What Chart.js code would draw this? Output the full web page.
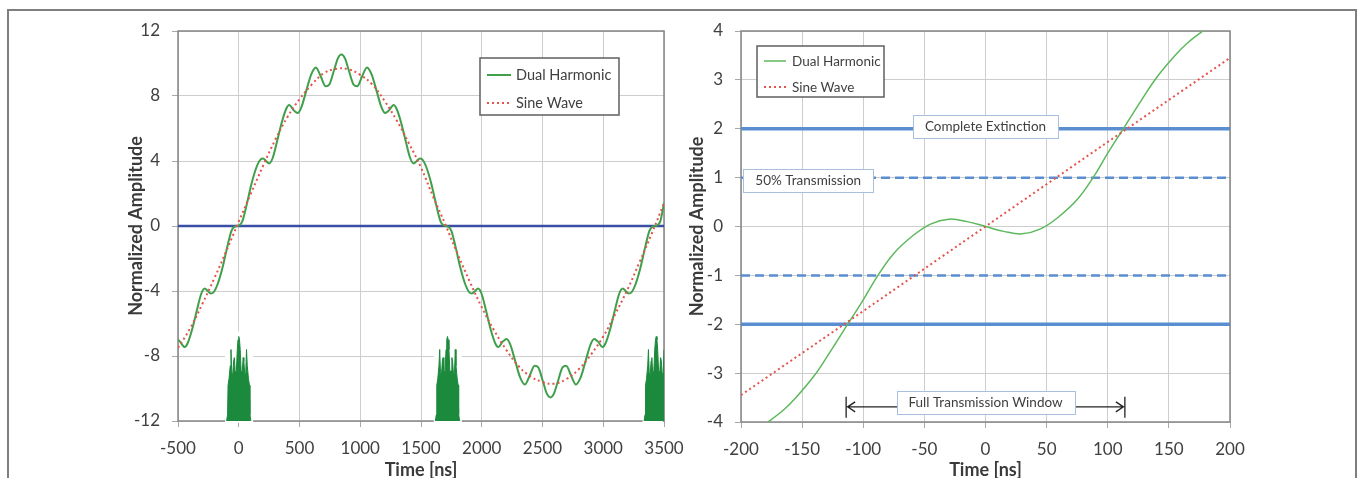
<!DOCTYPE html>
<html><head><meta charset="utf-8">
<script src="https://cdn.jsdelivr.net/npm/chart.js@4.4.1/dist/chart.umd.min.js"></script>
<style>
html,body{margin:0;padding:0;background:#fff;overflow:hidden;}
body{width:1358px;height:478px;position:relative;}
#frame{position:absolute;left:7px;top:9px;width:1350px;height:520px;border:2px solid #7f7f7f;box-sizing:border-box;}
#w1{position:absolute;left:0;top:0;width:700px;height:478px;}
#w2{position:absolute;left:680px;top:0;width:678px;height:478px;}
</style></head>
<body>
<div id="frame"></div>
<div id="w1"><canvas id="c1" width="700" height="478"></canvas></div>
<div id="w2"><canvas id="c2" width="678" height="478"></canvas></div>
<script>
// ---------- data ----------
const seriesNames = ['Dual Harmonic', 'Sine Wave'];

// Left panel: full period
const dualTime = [-500,-485,-445,-420,-385,-345,-310,-280,-255,-230,-210,-175,-135,-95,-60,-35,-15,5,30,65,105,145,180,200,225,250,280,315,355,390,415,455,485,515,555,595,635,675,715,745,785,815,845,875,905,945,975,1015,1055,1095,1135,1175,1205,1235,1275,1300,1335,1375,1410,1440,1465,1490,1510,1545,1585,1625,1660,1685,1705,1725,1750,1785,1825,1865,1900,1920,1945,1970,2000,2035,2075,2110,2135,2175,2205,2235,2275,2315,2355,2395,2435,2465,2505,2535,2565,2595,2625,2665,2695,2735,2775,2815,2855,2895,2925,2955,2995,3020,3055,3095,3130,3160,3185,3210,3230,3265,3305,3345,3380,3405,3425,3445,3470,3500];
const dualValue = [-7.0,-7.1,-7.45,-7.2,-6.4,-5.2,-4.2,-3.85,-4.0,-4.15,-4.1,-3.6,-2.6,-1.3,-0.3,-0.05,0,0.05,0.3,1.3,2.6,3.6,4.1,4.15,4.0,3.85,4.2,5.2,6.4,7.2,7.45,7.1,6.95,7.3,8.3,9.3,9.75,9.2,8.6,8.7,9.6,10.3,10.55,10.3,9.6,8.7,8.6,9.2,9.75,9.3,8.3,7.3,6.95,7.1,7.45,7.2,6.4,5.2,4.2,3.85,4.0,4.15,4.1,3.6,2.6,1.3,0.3,0.05,0,-0.05,-0.3,-1.3,-2.6,-3.6,-4.1,-4.15,-4.0,-3.85,-4.2,-5.2,-6.4,-7.2,-7.45,-7.1,-6.95,-7.3,-8.3,-9.3,-9.75,-9.2,-8.6,-8.7,-9.6,-10.3,-10.55,-10.3,-9.6,-8.7,-8.6,-9.2,-9.75,-9.3,-8.3,-7.3,-6.95,-7.1,-7.45,-7.2,-6.4,-5.2,-4.2,-3.85,-4.0,-4.15,-4.1,-3.6,-2.6,-1.3,-0.3,-0.05,0,0.05,0.3,1.4];
const sineTime = [-500,-400,-300,-200,-100,0,100,200,300,400,500,600,700,800,900,1000,1100,1200,1300,1400,1500,1600,1700,1800,1900,2000,2100,2200,2300,2400,2500,2600,2700,2800,2900,3000,3100,3200,3300,3400,3500];
const sineValue = [-7.5,-6.3,-4.8,-3.2,-1.5,0.27,2.0,3.7,5.3,6.7,7.8,8.7,9.4,9.67,9.65,9.3,8.7,7.7,6.5,5.1,3.6,1.8,0.1,-1.7,-3.4,-5.0,-6.4,-7.6,-8.6,-9.25,-9.6,-9.7,-9.4,-8.8,-7.9,-6.8,-5.4,-3.9,-2.2,-0.45,1.4];
const zeroLineTime = [-500, 3500];
const zeroLineValue = [0, 0];
// pulse inset (time offset from pulse centre, amplitude)
const pulseCenters = [0, 1718, 3436];
const pulseOffset = [-100,-92,-88,-80,-70,-64,-58,-50,-42,-36,-30,-20,-12,-6,0,6,12,20,30,36,42,50,58,64,70,80,88,92,100];
const pulseValue  = [-12,-11.6,-9.8,-9.4,-8.6,-7.6,-9.0,-9.2,-8.3,-8.1,-8.9,-9.0,-7.6,-7.0,-6.8,-7.0,-7.6,-9.0,-8.9,-8.1,-8.3,-9.2,-9.0,-7.6,-8.6,-9.4,-9.8,-11.6,-12];
const leftXTicks = [-500,0,500,1000,1500,2000,2500,3000,3500];
const leftYTicks = [-12,-8,-4,0,4,8,12];

// Right panel: zoom around the zero crossing
const zoomTime  = [-190,-178,-165,-155,-140,-128,-114,-100,-88,-75,-60,-45,-30,-15,0,15,30,45,60,75,88,100,114,128,140,155,165,178,190];
const zoomDual  = [-4.2,-4.0,-3.75,-3.5,-3.05,-2.6,-2.05,-1.5,-1.0,-0.55,-0.2,0.05,0.15,0.1,0,-0.1,-0.15,-0.05,0.2,0.55,1.0,1.5,2.05,2.6,3.05,3.5,3.75,4.0,4.2];
const zoomSineTime = [-200,-100,0,100,200];
const zoomSine     = [-3.45,-1.73,0,1.73,3.45];
const extinctionLevels = [2, -2];
const halfLevels = [1, -1];
const rightXTicks = [-200,-150,-100,-50,0,50,100,150,200];
const rightYTicks = [-4,-3,-2,-1,0,1,2,3,4];
const annotationTexts = ['Complete Extinction', '50% Transmission', 'Full Transmission Window'];
const annotationT = [0, -145, 0];
const annotationV = [2.05, 0.95, -3.6];
const windowStart = -114, windowEnd = 114, windowLevel = -3.69;

// ---------- helpers ----------
const FONT = 'Lato, "Open Sans", sans-serif';
const TXT = '#404040';
const pts = (xs, ys) => xs.map((x, i) => ({x: x, y: ys[i]}));

function frameAndGrid(chart) {
  const {ctx, chartArea: a} = chart;
  ctx.save();
  ctx.strokeStyle = '#858585';
  ctx.lineWidth = 1.5;
  ctx.strokeRect(a.left, a.top, a.right - a.left, a.bottom - a.top);
  ctx.restore();
}

function drawLegend(ctx, bx, by, bw, bh, rows, s0, s1, tx, fontSize, entries) {
  ctx.save();
  ctx.fillStyle = '#fff';
  ctx.fillRect(bx, by, bw, bh);
  ctx.strokeStyle = '#5f5f5f';
  ctx.lineWidth = 1.5;
  ctx.strokeRect(bx, by, bw, bh);
  ctx.font = fontSize + 'px ' + FONT;
  ctx.textBaseline = 'middle';
  ctx.textAlign = 'left';
  entries.forEach((e, i) => {
    const yy = by + rows[i];
    ctx.beginPath();
    ctx.setLineDash(e.dash || []);
    ctx.strokeStyle = e.color;
    ctx.lineWidth = e.width;
    ctx.moveTo(bx + s0, yy);
    ctx.lineTo(bx + s1, yy);
    ctx.stroke();
    ctx.setLineDash([]);
    ctx.fillStyle = TXT;
    ctx.fillText(e.label, bx + tx, yy + 0.5);
  });
  ctx.restore();
}

function scaleOpts(min, max, ticksArr, width, height, isX, titleText, titlePad) {
  const o = {
    type: 'linear', min: min, max: max,
    afterBuildTicks: s => { s.ticks = ticksArr.map(v => ({value: v})); },
    ticks: {font: {family: FONT, size: 17}, color: TXT, autoSkip: false, maxRotation: 0,
            padding: isX ? 11 : 12, callback: v => String(v)},
    grid: {color: '#cdcdcd', lineWidth: 1, tickLength: 6, tickColor: '#a8a8a8', drawTicks: true},
    border: {display: false},
    title: {display: true, text: titleText, color: '#3a3a3a',
            font: {family: FONT, size: 18, weight: 'bold'}, padding: titlePad}
  };
  if (isX) o.afterFit = s => { s.height = height; };
  else o.afterFit = s => { s.width = width; };
  return o;
}

// ---------- left chart ----------
const leftDecor = {
  id: 'leftDecor',
  beforeDatasetsDraw(chart) {
    const {ctx, chartArea: a, scales: {x, y}} = chart;
    frameAndGrid(chart);
    ctx.save();
    ctx.fillStyle = '#fff';
    pulseCenters.forEach(c => {
      const x0 = Math.max(a.left + 1, x.getPixelForValue(c - 113));
      const x1 = Math.min(a.right - 1, x.getPixelForValue(c + 118));
      const y0 = y.getPixelForValue(-6.5);
      ctx.fillRect(x0, y0, x1 - x0, a.bottom + 2 - y0);
    });
    ctx.restore();
  },
  afterDatasetsDraw(chart) {
    const {ctx, chartArea: a} = chart;
    drawLegend(ctx, a.right - 184, a.top + 27, 139, 57, [17, 45], 7, 31, 36, 14.5, [
      {label: seriesNames[0], color: '#3f9f4a', width: 2},
      {label: seriesNames[1], color: '#e5534b', width: 2, dash: [2, 3]}
    ]);
  }
};

const pulseSets = pulseCenters.map(c => ({
  label: 'pulse',
  data: pulseOffset.map((u, i) => ({x: c + u, y: pulseValue[i]})),
  borderColor: '#1b8a3c', backgroundColor: '#1b8a3c', borderWidth: 1,
  fill: {value: -12}, pointRadius: 0, tension: 0, order: 5
}));

new Chart(document.getElementById('c1'), {
  type: 'line',
  data: {datasets: [
    {label: seriesNames[1], data: pts(sineTime, sineValue), borderColor: '#e5534b', borderWidth: 2,
     borderDash: [2, 3], pointRadius: 0, tension: 0.4, fill: false, order: 1},
    {label: seriesNames[0], data: pts(dualTime, dualValue), borderColor: '#3f9f4a', borderWidth: 2,
     pointRadius: 0, cubicInterpolationMode: 'monotone', fill: false, order: 2},
    {label: 'zero', data: pts(zeroLineTime, zeroLineValue), borderColor: '#3a4fa3', borderWidth: 2.5,
     pointRadius: 0, fill: false, order: 3},
    ...pulseSets
  ]},
  options: {
    responsive: false, animation: false, events: [],
    layout: {padding: {left: 0, top: 31, right: 36, bottom: 0}},
    plugins: {legend: {display: false}, tooltip: {enabled: false}},
    scales: {
      x: scaleOpts(-500, 3500, leftXTicks, 0, 57, true, 'Time [ns]', {top: 0, bottom: -3}),
      y: scaleOpts(-12, 12, leftYTicks, 178, 0, false, 'Normalized Amplitude', {top: 125, bottom: 0})
    }
  },
  plugins: [leftDecor]
});

// ---------- right chart ----------
const rightDecor = {
  id: 'rightDecor',
  beforeDatasetsDraw(chart) { frameAndGrid(chart); },
  afterDatasetsDraw(chart) {
    const {ctx, chartArea: a, scales: {x, y}} = chart;
    ctx.save();
    // arrow
    const xa = x.getPixelForValue(windowStart), xb = x.getPixelForValue(windowEnd);
    const ya = y.getPixelForValue(windowLevel);
    ctx.strokeStyle = '#222'; ctx.lineWidth = 1.3;
    ctx.beginPath();
    ctx.moveTo(xa, ya - 10); ctx.lineTo(xa, ya + 11);
    ctx.moveTo(xb, ya - 10); ctx.lineTo(xb, ya + 11);
    ctx.moveTo(xa + 1, ya); ctx.lineTo(xb - 1, ya);
    ctx.moveTo(xa + 9, ya - 5); ctx.lineTo(xa + 1.5, ya); ctx.lineTo(xa + 9, ya + 5);
    ctx.moveTo(xb - 9, ya - 5); ctx.lineTo(xb - 1.5, ya); ctx.lineTo(xb - 9, ya + 5);
    ctx.stroke();
    // label boxes
    ctx.font = '13.5px ' + FONT;
    ctx.textAlign = 'center'; ctx.textBaseline = 'middle';
    annotationTexts.forEach((t, i) => {
      const cx = x.getPixelForValue(annotationT[i]), cy = y.getPixelForValue(annotationV[i]);
      const w = Math.round(ctx.measureText(t).width + 24), h = 23;
      const bx = Math.round(cx - w / 2) + 0.5, by = Math.round(cy - h / 2) + 0.5;
      ctx.fillStyle = '#fff'; ctx.fillRect(bx, by, w, h);
      ctx.strokeStyle = '#a8c0de'; ctx.lineWidth = 1; ctx.strokeRect(bx, by, w, h);
      ctx.fillStyle = TXT; ctx.fillText(t, cx, cy + 0.5);
    });
    ctx.restore();
    drawLegend(ctx, a.left + 16, a.top + 15, 127, 51, [15, 41], 7, 29, 35, 13.5, [
      {label: seriesNames[0], color: '#5cb85c', width: 1.5},
      {label: seriesNames[1], color: '#e5534b', width: 2, dash: [2, 3]}
    ]);
  }
};

const levelSet = (v, dash, w) => ({
  label: 'level', data: pts(rightXTicks.filter((_, i) => i === 0 || i === rightXTicks.length - 1), [v, v]),
  borderColor: '#5b8dd1', borderWidth: w, borderDash: dash, pointRadius: 0, fill: false, order: 4
});

new Chart(document.getElementById('c2'), {
  type: 'line',
  data: {datasets: [
    {label: seriesNames[1], data: pts(zoomSineTime, zoomSine), borderColor: '#e5534b', borderWidth: 2,
     borderDash: [2, 3], pointRadius: 0, tension: 0, fill: false, order: 1},
    {label: seriesNames[0], data: pts(zoomTime, zoomDual), borderColor: '#5cb85c', borderWidth: 1.5,
     pointRadius: 0, tension: 0.4, fill: false, order: 2},
    levelSet(extinctionLevels[0], [], 3.5),
    levelSet(extinctionLevels[1], [], 3.5),
    levelSet(halfLevels[0], [9, 5], 2.5),
    levelSet(halfLevels[1], [9, 5], 2.5)
  ]},
  options: {
    responsive: false, animation: false, events: [],
    layout: {padding: {left: 0, top: 31, right: 128, bottom: 0}},
    plugins: {legend: {display: false}, tooltip: {enabled: false}},
    scales: {
      x: scaleOpts(-200, 200, rightXTicks, 0, 56, true, 'Time [ns]', {top: 0, bottom: -3}),
      y: scaleOpts(-4, 4, rightYTicks, 61, 0, false, 'Normalized Amplitude', {top: 6, bottom: 0})
    }
  },
  plugins: [rightDecor]
});
</script>
</body></html>
